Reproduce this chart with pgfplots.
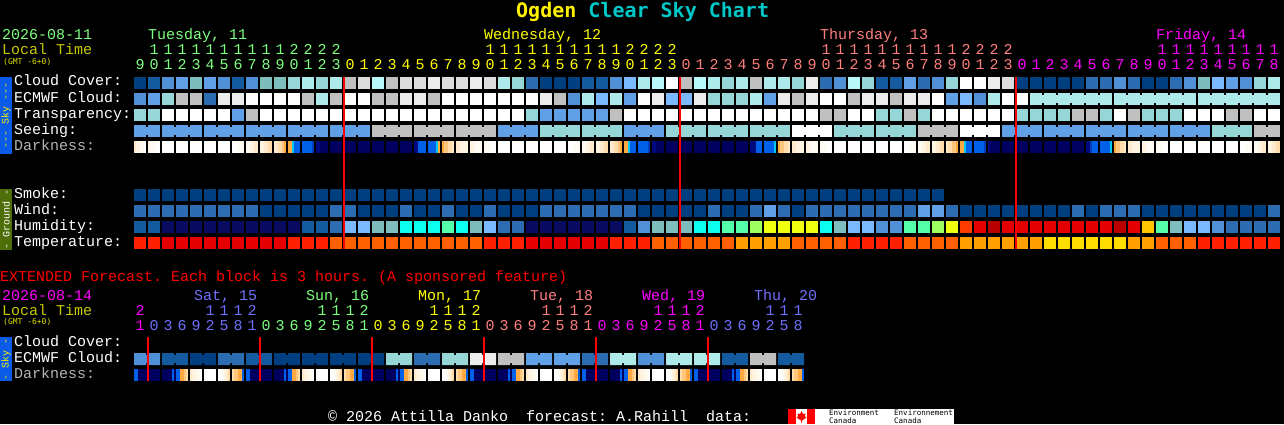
\documentclass[border=0pt]{standalone}
\usepackage{fontspec}
\usepackage{pgfplots}
\usepackage{pgfplotstable}
\pgfplotsset{compat=1.18}
\newfontfamily\lab{Liberation Mono}
\newfontfamily\ttl[BoldFont={DejaVu Sans Mono Bold}]{DejaVu Sans Mono}

% block colours: cloud / seeing / transparency ramp
\definecolor{ca}{HTML}{003F7F}\definecolor{cb}{HTML}{145A9E}\definecolor{cc}{HTML}{2C6CB0}
\definecolor{cd}{HTML}{4F90D6}\definecolor{ce}{HTML}{5FA0E6}\definecolor{cf}{HTML}{7AB8FF}
\definecolor{cg}{HTML}{7FBDBD}\definecolor{ch}{HTML}{96D6D6}\definecolor{ci}{HTML}{AEEAEA}
\definecolor{cj}{HTML}{B8F8F8}\definecolor{ck}{HTML}{FFFFFF}\definecolor{cl}{HTML}{ECECEC}
\definecolor{cm}{HTML}{DCDCDC}\definecolor{co}{HTML}{C0C0C0}
% humidity / temperature
\definecolor{cq}{HTML}{0A0A60}\definecolor{cr}{HTML}{0CFFEE}\definecolor{cs}{HTML}{55FFAA}
\definecolor{ct}{HTML}{A0FF60}\definecolor{cu}{HTML}{EEFF10}\definecolor{cv}{HTML}{FF3C00}
\definecolor{cw}{HTML}{E40000}\definecolor{cx}{HTML}{B80000}\definecolor{cy}{HTML}{FFC800}
\definecolor{cz}{HTML}{FF2000}\definecolor{cA}{HTML}{FF6000}\definecolor{cB}{HTML}{FFA000}
\definecolor{cC}{HTML}{FFDD00}
% darkness
\definecolor{cD}{HTML}{FFFAF2}\definecolor{cE}{HTML}{FFF3E2}\definecolor{cF}{HTML}{FFE9CC}
\definecolor{cG}{HTML}{FFDCAA}\definecolor{cH}{HTML}{FFC67C}\definecolor{cI}{HTML}{FFAA40}
\definecolor{cJ}{HTML}{00C8F0}\definecolor{cK}{HTML}{0060E8}\definecolor{cL}{HTML}{0040C0}
\definecolor{cM}{HTML}{000A80}\definecolor{cN}{HTML}{00005F}\definecolor{cQ}{HTML}{000000}

\pgfdeclareplotmark{blk}{\pgfpathrectangle{\pgfpoint{-6pt}{-6pt}}{\pgfpoint{12pt}{12pt}}\pgfusepathqfill}
\pgfdeclareplotmark{joint}{\pgfpathrectangle{\pgfpoint{-1pt}{-4pt}}{\pgfpoint{2pt}{8pt}}\pgfusepathqfill}
\pgfdeclareplotmark{slice}{\pgfpathrectangle{\pgfpoint{-1pt}{-6pt}}{\pgfpoint{2pt}{12pt}}\pgfusepathqfill}
\pgfdeclareplotmark{pair}{%
  \pgfpathmoveto{\pgfpoint{-13pt}{-6pt}}\pgfpathlineto{\pgfpoint{-1pt}{-6pt}}%
  \pgfpathlineto{\pgfpoint{-1pt}{-4pt}}\pgfpathlineto{\pgfpoint{1pt}{-4pt}}%
  \pgfpathlineto{\pgfpoint{1pt}{-6pt}}\pgfpathlineto{\pgfpoint{13pt}{-6pt}}%
  \pgfpathlineto{\pgfpoint{13pt}{6pt}}\pgfpathlineto{\pgfpoint{1pt}{6pt}}%
  \pgfpathlineto{\pgfpoint{1pt}{4pt}}\pgfpathlineto{\pgfpoint{-1pt}{4pt}}%
  \pgfpathlineto{\pgfpoint{-1pt}{6pt}}\pgfpathlineto{\pgfpoint{-13pt}{6pt}}%
  \pgfpathclose\pgfusepathqfill}

\pgfplotsset{
  csc/.style={only marks, scatter, point meta=explicit symbolic,
    scatter/classes={
      a={color=ca},b={color=cb},c={color=cc},d={color=cd},e={color=ce},f={color=cf},
      g={color=cg},h={color=ch},i={color=ci},j={color=cj},k={color=ck},l={color=cl},
      m={color=cm},o={color=co},q={color=cq},r={color=cr},s={color=cs},t={color=ct},
      u={color=cu},v={color=cv},w={color=cw},x={color=cx},y={color=cy},z={color=cz},
      A={color=cA},B={color=cB},C={color=cC},D={color=cD},E={color=cE},F={color=cF},
      G={color=cG},H={color=cH},I={color=cI},J={color=cJ},K={color=cK},L={color=cL},
      M={color=cM},N={color=cN},Q={color=cQ}}},
  block/.style={csc, mark=blk},
  joint/.style={csc, mark=joint},
  slice/.style={csc, mark=slice},
  pair/.style={csc, mark=pair},
  night/.style={red, line width=2pt},
}

% one line per hourly column of the chart; Q = nothing there
\pgfplotstableread{
cl ec tr se sj ej sm wi hu te
a d h e e Q a c b z
b e h e Q Q a c b z
d h k e e Q a c q w
e o k e e Q a c q w
g o k e Q Q a c q w
e c k e e Q a c q w
d l k e e Q a c q w
b l e e Q Q a c q w
d k o e e Q a c q w
g k k e e Q a a q w
g k k e Q Q a a q w
h k k e e Q a a q z
i o k e e Q a a b z
h i k e Q Q a a b z
i o k e e Q a c c A
o k k e e Q a c f A
m k k e Q Q a a f A
j o k o o Q a a g A
o o k o o Q a a g A
m l k o Q Q a c r A
m l k o o Q a a r A
l o k o o Q a a r A
m k k o Q Q a c s A
m k k o o Q a a r A
l k k o o Q a a g A
m k k o Q Q a c f z
i k k e e Q a a c z
h k k e e Q a a c z
c k h e Q Q a a q w
a l e h h Q a c q w
a o e h h Q a c q w
a d e h Q Q a c q w
b i e h h Q a c q w
b f e h h Q a c q w
d i o h Q Q a c q z
f e k e e Q a c b z
i k k e e Q a a d z
j l k e Q Q a a g A
k f k h h Q a a g A
o f k h h Q a a g A
j l k h Q Q a a r A
i h k h h Q a c r A
h h k h h Q a a s A
i h k h Q Q a a s B
o i k h h Q a c t B
i e k h h Q a e u B
i l k h Q Q a c u B
h o k k k Q a a u A
l l k k k Q a c u A
c k o k Q Q a c r A
d k o h h Q a c g A
j o k h h Q a c f z
h l k h Q Q a c f z
b l h h h Q a c d z
b o h h h Q a c d z
e l o h Q Q a c s A
c l h o o Q a e s A
d k k o o Q a e t A
h e k o Q Q Q c u A
k f k k k Q Q a v B
k d k k k Q Q a w B
l i k k Q Q Q a x B
m k k e e Q Q a w B
a k h e e Q Q a w B
a i h e Q i Q a w B
a i h e e i Q a w C
a i h e e i Q a w C
a i o e Q i Q c w C
c i o e e i Q a w C
c i h e e Q Q c w C
d i k e Q i Q c x C
c i o e e i Q c w B
a i h e e i Q a y B
a i h e Q i Q a s A
c i h e e i Q a g A
d i k e e Q Q a f A
g i k e Q i Q a f z
f i k h h i Q a d z
e i o h h i Q a c z
d i o h Q i Q a c z
h i k o o i Q a c z
i i k o Q Q Q c c z
}\hourly

% darkness, six 2-pixel slices per hour
\pgfplotstableread{
d1 d2 d3 d4 d5 d6
F E E D D k
E D D D k k
k k k k k k
k k k k k k
k k k k k k
k k k k k k
k k k k k k
k k k D D D
D D E E F F
E E F F G G
F F G G H I
I I J K K K
K K K K K L
M M N N N N
N N N N N N
N N N N N N
N N N N N N
N N N N N N
N N N N N N
N N N N N N
M M K K K K
K K K K J I
I H H G G F
F F E E E E
E E D D D D
D D D k k k
k k k k k k
k k k k k k
k k k k k k
k k k k k k
k k k k k k
k k k D D D
D D E E F F
E E F F G G
F F G G H I
I I J K K K
K K K K K L
M M N N N N
N N N N N N
N N N N N N
N N N N N N
N N N N N N
N N N N N N
N N N N N N
M M M K K K
K K K K K J
I H H G G F
F F E E E E
E E D D D D
D D D k k k
k k k k k k
k k k k k k
k k k k k k
k k k k k k
k k k k k k
k k k D D D
D D E E F F
E E F F G G
F G G H H I
I I J K K K
K K K K K L
M N N N N N
N N N N N N
N N N N N N
N N N N N N
N N N N N N
N N N N N N
N N N N N N
M M L K K K
K K K K K J
I H H G G F
F F E E E E
E E D D D D
D D D k k k
k k k k k k
k k k k k k
k k k k k k
k k k k k k
k k k k k k
k k k D D D
D D E E F F
E E F F G G
}\dark

% extended forecast: 24 six-hour ECMWF blocks
\pgfplotstableread[row sep=crcr]{
n c\\
0 d\\ 1 b\\ 2 a\\ 3 c\\ 4 b\\ 5 a\\ 6 a\\ 7 a\\ 8 a\\ 9 h\\ 10 c\\ 11 h\\
12 l\\ 13 o\\ 14 e\\ 15 e\\ 16 c\\ 17 i\\ 18 d\\ 19 i\\ 20 i\\ 21 b\\ 22 o\\ 23 b\\
}\extcloud

% extended darkness, one day in 2-pixel columns
\pgfplotstableread[row sep=crcr]{
n c\\
0 K\\ 1 K\\ 2 N\\ 3 N\\ 4 N\\ 5 N\\ 6 N\\ 7 N\\ 8 N\\ 9 N\\ 10 N\\ 11 N\\ 12 N\\ 13 Q\\
14 N\\ 15 N\\ 16 N\\ 17 N\\ 18 N\\ 19 K\\ 20 N\\ 21 K\\ 22 K\\ 23 I\\ 24 I\\ 25 H\\ 26 G\\ 27 Q\\
28 F\\ 29 E\\ 30 E\\ 31 D\\ 32 D\\ 33 k\\ 34 Q\\
35 k\\ 36 k\\ 37 k\\ 38 k\\ 39 k\\ 40 k\\ 41 Q\\
42 k\\ 43 k\\ 44 D\\ 45 E\\ 46 F\\ 47 G\\ 48 Q\\
49 G\\ 50 H\\ 51 H\\ 52 I\\ 53 I\\ 54 K\\ 55 Q\\
}\extdark

\newcommand\hours[4]{% first column, y, colour, digits
  \foreach \d [count=\n from 0] in {#4}
    \node[text=#3,anchor=base,inner sep=0pt,font=\lab\fontsize{15}{15}\selectfont]
      at (140+14*#1+14*\n,#2+5) {\d};}
\newcommand\rowlabel[3][white]{%
  \node[text=#1,anchor=base west,inner sep=0pt,font=\lab\fontsize{15}{15}\selectfont]
    at (14,#2+5) {#3};}
\newcommand\txt[4]{% x, y, colour, text
  \node[text=#3,anchor=base west,inner sep=0pt,font=\lab\fontsize{15}{15}\selectfont]
    at (#1,#2+5) {#4};}
\newcommand\gmt[1]{%
  \node[text=gmtyel,anchor=base west,inner sep=0pt,font=\ttl\fontsize{8}{8}\selectfont]
    at (3,#1+2.5) {(GMT -6+0)};}
\newcommand\sidebar[5]{% y0, y1, fill, text colour, text
  \fill[#3] (0,#1) rectangle (12,#2);
  \node[text=#4,rotate=90,inner sep=0pt,font=\lab\fontsize{10}{10}\selectfont]
    at (6,{(#1+#2)/2}) {#5};}

\definecolor{tue}{HTML}{7FFF7F}\definecolor{wed}{HTML}{FFFF00}\definecolor{thu}{HTML}{FF7F7F}
\definecolor{fri}{HTML}{FF00FF}\definecolor{sat}{HTML}{7070FF}\definecolor{localyel}{HTML}{C8C800}
\definecolor{gmtyel}{HTML}{E0E000}
\definecolor{lbgrey}{HTML}{B4B4B4}\definecolor{tcyan}{HTML}{00C8C8}\definecolor{olive}{HTML}{4E6E0A}
\definecolor{skybar}{HTML}{0A5CE8}

\begin{document}
\frenchspacing
\begin{tikzpicture}
\useasboundingbox (0,0) rectangle (1284pt,424pt);
\begin{axis}[
  scale only axis, width=1284pt, height=424pt,
  at={(0,0)}, anchor=south west,
  xmin=0, xmax=1284, ymin=0, ymax=424, y dir=reverse,
  axis line style={draw=none}, ticks=none,
  axis background/.style={fill=black},
  clip mode=individual,
]
% sky rows
\addplot[block] table[x expr=140+14*\coordindex, y expr=83,  meta=cl]{\hourly};
\addplot[block] table[x expr=140+14*\coordindex, y expr=99,  meta=ec]{\hourly};
\addplot[joint] table[x expr=147+14*\coordindex, y expr=99,  meta=ej]{\hourly};
\addplot[block] table[x expr=140+14*\coordindex, y expr=115, meta=tr]{\hourly};
\addplot[block] table[x expr=140+14*\coordindex, y expr=131, meta=se]{\hourly};
\addplot[joint] table[x expr=147+14*\coordindex, y expr=131, meta=sj]{\hourly};
\pgfplotsinvokeforeach{1,...,6}{
  \addplot[slice] table[x expr=133+2*#1+14*\coordindex, y expr=147, meta=d#1]{\dark};
}
% ground rows
\addplot[block] table[x expr=140+14*\coordindex, y expr=195, meta=sm]{\hourly};
\addplot[block] table[x expr=140+14*\coordindex, y expr=211, meta=wi]{\hourly};
\addplot[block] table[x expr=140+14*\coordindex, y expr=227, meta=hu]{\hourly};
\addplot[block] table[x expr=140+14*\coordindex, y expr=243, meta=te]{\hourly};
% extended forecast
\addplot[pair] table[x expr=147+28*\thisrow{n}, y expr=359, meta=c]{\extcloud};
\pgfplotsinvokeforeach{0,...,5}{
  \addplot[slice] table[x expr=135+2*\thisrow{n}+112*#1, y expr=375, meta=c]{\extdark};
}
% midnight lines
\addplot[night] coordinates {(344,77) (344,249)};
\addplot[night] coordinates {(680,77) (680,249)};
\addplot[night] coordinates {(1016,77) (1016,249)};
\addplot[night] coordinates {(148,337) (148,381)};
\addplot[night] coordinates {(260,337) (260,381)};
\addplot[night] coordinates {(372,337) (372,381)};
\addplot[night] coordinates {(484,337) (484,381)};
\addplot[night] coordinates {(596,337) (596,381)};
\addplot[night] coordinates {(708,337) (708,381)};
\end{axis}

\begin{scope}[x=1pt,y=-1pt,shift={(0,424pt)}]
% title
\node[anchor=base west,inner sep=0pt,font=\ttl\bfseries\fontsize{20}{20}\selectfont]
  at (516,18) {\textcolor{yellow}{Ogden} \textcolor{tcyan}{Clear Sky Chart}};
% header
\txt{2}{35}{tue}{2026-08-11}
\txt{2}{50}{localyel}{Local Time}
\gmt{62}
\txt{148}{35}{tue}{Tuesday, 11}
\txt{484}{35}{wed}{Wednesday, 12}
\txt{820}{35}{thu}{Thursday, 13}
\txt{1156}{35}{fri}{Friday, 14}
\hours{1}{50}{tue}{1,1,1,1,1,1,1,1,1,1,2,2,2,2}
\hours{0}{65}{tue}{9,0,1,2,3,4,5,6,7,8,9,0,1,2,3}
\hours{25}{50}{wed}{1,1,1,1,1,1,1,1,1,1,2,2,2,2}
\hours{15}{65}{wed}{0,1,2,3,4,5,6,7,8,9,0,1,2,3,4,5,6,7,8,9,0,1,2,3}
\hours{49}{50}{thu}{1,1,1,1,1,1,1,1,1,1,2,2,2,2}
\hours{39}{65}{thu}{0,1,2,3,4,5,6,7,8,9,0,1,2,3,4,5,6,7,8,9,0,1,2,3}
\hours{73}{50}{fri}{1,1,1,1,1,1,1,1,1}
\hours{63}{65}{fri}{0,1,2,3,4,5,6,7,8,9,0,1,2,3,4,5,6,7,8}
% row names
\rowlabel{81}{Cloud Cover:}
\rowlabel{97}{ECMWF Cloud:}
\rowlabel{113}{Transparency:}
\rowlabel{129}{Seeing:}
\rowlabel[lbgrey]{145}{Darkness:}
\rowlabel{193}{Smoke:}
\rowlabel{209}{Wind:}
\rowlabel{225}{Humidity:}
\rowlabel{241}{Temperature:}
\sidebar{77}{154}{skybar}{yellow}{--- Sky ---}
\sidebar{189}{250}{olive}{white}{- Ground -}
% extended header
\txt{0}{276}{red}{EXTENDED Forecast. Each block is 3 hours. (A sponsored feature)}
\txt{2}{295}{fri}{2026-08-14}
\txt{2}{310}{localyel}{Local Time}
\gmt{322}
\txt{194}{295}{sat}{Sat, 15}
\txt{306}{295}{tue}{Sun, 16}
\txt{418}{295}{wed}{Mon, 17}
\txt{530}{295}{thu}{Tue, 18}
\txt{642}{295}{fri}{Wed, 19}
\txt{754}{295}{sat}{Thu, 20}
\hours{0}{310}{fri}{2}
\hours{0}{325}{fri}{1}
\hours{5}{310}{sat}{1,1,1,2}
\hours{1}{325}{sat}{0,3,6,9,2,5,8,1}
\hours{13}{310}{tue}{1,1,1,2}
\hours{9}{325}{tue}{0,3,6,9,2,5,8,1}
\hours{21}{310}{wed}{1,1,1,2}
\hours{17}{325}{wed}{0,3,6,9,2,5,8,1}
\hours{29}{310}{thu}{1,1,1,2}
\hours{25}{325}{thu}{0,3,6,9,2,5,8,1}
\hours{37}{310}{fri}{1,1,1,2}
\hours{33}{325}{fri}{0,3,6,9,2,5,8,1}
\hours{45}{310}{sat}{1,1,1}
\hours{41}{325}{sat}{0,3,6,9,2,5,8}
\rowlabel{341}{Cloud Cover:}
\rowlabel{357}{ECMWF Cloud:}
\rowlabel[lbgrey]{373}{Darkness:}
\sidebar{337}{381}{skybar}{yellow}{- Sky -}
% footer
\txt{328}{416}{white}{© 2026 Attilla Danko\ \ forecast: A.Rahill\ \ data:}
\fill[white] (788,409) rectangle (954,424);
\fill[red] (788,409) rectangle (796,424);
\fill[red] (807,409) rectangle (815,424);
\fill[red] (801.5,411) -- (803,414) -- (805.5,413.5) -- (805,416.5) -- (806.5,417.5)
  -- (802,420.5) -- (802,422.5) -- (801,422.5) -- (801,420.5) -- (796.5,417.5)
  -- (798,416.5) -- (797.5,413.5) -- (800,414) -- cycle;
\foreach \x/\w in {829/Environment,894/Environnement} {
  \node[text=black,anchor=base west,inner sep=0pt,font=\ttl\fontsize{7.5}{7.5}\selectfont] at (\x,415.5) {\w};
  \node[text=black,anchor=base west,inner sep=0pt,font=\ttl\fontsize{7.5}{7.5}\selectfont] at (\x,423) {Canada};
}
\end{scope}
\end{tikzpicture}
\end{document}
